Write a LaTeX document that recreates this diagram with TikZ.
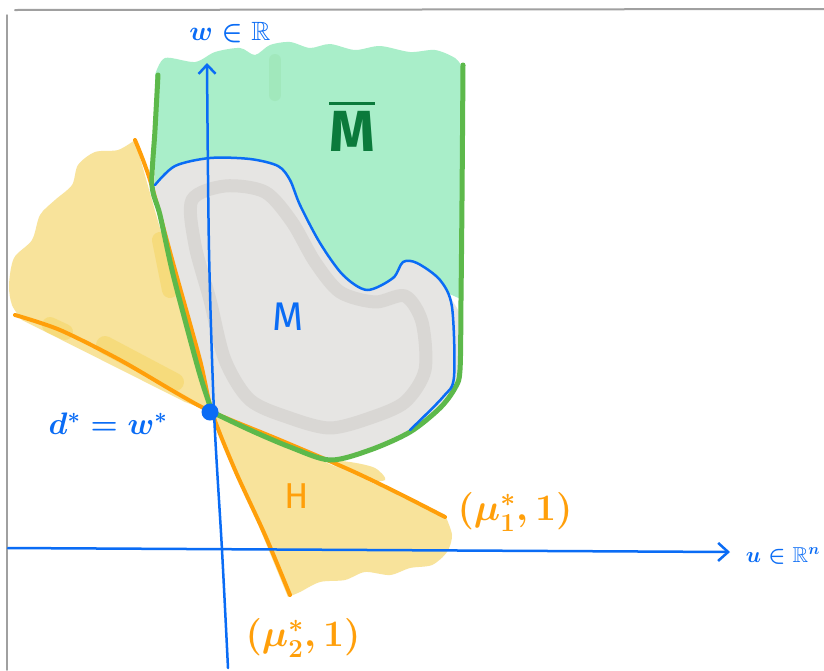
\documentclass[tikz,border=0pt]{standalone}
\usepackage{amssymb}
\usepackage{fontspec}
\setsansfont{Fira Sans}
\usetikzlibrary{arrows.meta}
\definecolor{gfill}{HTML}{A9EEC9}
\definecolor{gline}{HTML}{5DB94B}
\definecolor{gdark}{HTML}{0B7A3B}
\definecolor{grfill}{HTML}{E6E5E3}
\definecolor{grstroke}{HTML}{D9D7D4}
\definecolor{yfill}{HTML}{F8E39B}
\definecolor{ydark}{HTML}{F5D768}
\definecolor{orng}{HTML}{FF9F0A}
\definecolor{blu}{HTML}{0A6CF5}
\definecolor{bordergray}{HTML}{A0A0A0}
\begin{document}
\begin{tikzpicture}[x=1pt,y=-1pt,line cap=round,line join=round,
  axisline/.style={blu,line width=2.5pt},
  orline/.style={orng,line width=4pt},
  grline/.style={gline,line width=5pt},
  lbl/.style={inner sep=0pt,font=\sffamily}]
\useasboundingbox (0,0) rectangle (824,670);
\fill[white] (0,0) rectangle (824,670);
% border
\draw[bordergray,line width=2pt] (15,10) -- (824,9);
\draw[bordergray,line width=1.5pt] (7,15) -- (7,670);
% yellow upper wedge
\fill[yfill] (212,412) -- (135,140) -- plot[smooth] coordinates {(135,140)(118,150)(95,152)(78,165)(72,185)(55,200)(40,215)(32,240)(14,258)(9,285)(12,305)(22,320)} -- (185,402) -- cycle;
% yellow lower wedge
\fill[yfill] (212,412) -- (445,515) -- plot[smooth] coordinates {(445,515)(452,535)(447,552)(432,565)(410,568)(390,575)(365,572)(345,580)(320,582)(300,592)(288,597)} -- cycle;
\fill[yfill] plot[smooth cycle] coordinates {(330,462)(350,462)(375,468)(385,480)(360,480)};
% darker yellow streaks
\draw[ydark,line width=16pt,opacity=0.6] (50,325) -- (65,332);
\draw[ydark,line width=18pt,opacity=0.6] (105,345) -- (175,382);
\draw[ydark,line width=16pt,opacity=0.6] (160,240) -- (170,290);
% green fill
\fill[gfill] (155,185) -- (155,75) -- plot[smooth] coordinates {(155,75)(165,58)(195,62)(215,52)(240,48)(255,55)(270,45)(290,42)(310,48)(330,44)(355,50)(380,46)(410,52)(435,50)(455,58)(463,68)} -- (463,300) -- (445,292) -- (420,272) -- (403,270) -- (392,285) -- (367,297) -- (340,288) -- (300,215) -- (280,175) -- (210,165) -- cycle;
\draw[gfill!80!gline,line width=12pt,opacity=0.5] (275,60) -- (275,95);
% gray blob (bounded by blue outline and green boundary)
\fill[grfill] plot[smooth cycle] coordinates {(155,185)(175,166)(210,158)(250,159)(278,166)(290,180)(300,205)(320,243)(343,275)(367,290)(393,278)(403,262)(417,263)(440,280)(452,300)(461,320)(460,370)(455,388)(440,408)(410,432)(370,450)(330,460)(290,447)(240,425)(212,412)(200,370)(185,310)(170,250)(158,200)};
\draw[grstroke,line width=13pt] plot[smooth cycle] coordinates {(192,200)(225,186)(265,192)(292,222)(315,262)(340,292)(375,302)(405,296)(422,322)(425,370)(405,402)(370,418)(330,428)(290,418)(250,400)(225,360)(210,300)(195,245)};
% orange lines
\draw[orline] plot[smooth] coordinates {(15,315)(60,330)(120,360)(180,395)(212,412)(280,440)(350,470)(400,494)(445,517)};
\draw[orline] plot[smooth] coordinates {(135,140)(150,180)(175,270)(200,360)(212,412)(235,470)(265,535)(290,595)};
% green boundary lines
\draw[grline] plot[smooth] coordinates {(158,75)(155,130)(152,185)(160,215)(172,270)(185,320)(200,375)(212,412)};
\draw[grline] plot[smooth] coordinates {(212,412)(250,430)(290,447)(330,460)(370,450)(410,432)(440,408)(455,388)(460,370)(461,300)(462,200)(463,65)};
% blue outline of M
\draw[blu,line width=2.5pt] plot[smooth] coordinates {(155,185)(175,166)(210,158)(250,159)(278,166)(290,180)(300,205)(320,243)(343,275)(367,290)(393,278)(403,262)(417,263)(440,280)(452,307)(454,377)(443,397)(410,430)};
% axes
\coordinate (vbot) at (228,668);
\coordinate (vtop) at (207,63);
\coordinate (hleft) at (8,548);
\coordinate (hright) at (730,552);
\draw[axisline,-{Straight Barb[length=9pt,width=17pt,line width=2.5pt]}] plot[smooth] coordinates {(vbot)(222,550)(214,412)(209,250)(vtop)};
\draw[axisline,-{Straight Barb[length=10pt,width=18pt,line width=2.5pt]}] (hleft) -- (hright);
% point
\node[circle,fill=blu,minimum size=17pt,inner sep=0pt] (dot) at (210,412) {};
% labels
\node[lbl,blu,font=\fontsize{24}{24}\selectfont\boldmath] (wlab) at (230,33) {\scalebox{1.1}{$w\in\mathbb{R}$}};
\node[lbl,blu,font=\fontsize{24}{24}\selectfont\boldmath,anchor=east] (ulab) at (820,556) {\scalebox{0.9}{$u\in\mathbb{R}^n$}};
\node[lbl,blu,font=\fontsize{24}{24}\selectfont\boldmath] (dlab) at (108,424) {\scalebox{1.25}{$d^*=w^*$}};
\node[lbl,orng,font=\fontsize{24}{24}\selectfont\boldmath] (mu1) at (515,512) {\scalebox{1.5}{$(\mu^*_1,1)$}};
\node[lbl,orng,font=\fontsize{24}{24}\selectfont\boldmath] (mu2) at (303,638) {\scalebox{1.5}{$(\mu^*_2,1)$}};
\node[lbl,gdark,font=\fontsize{58}{58}\selectfont] (mbar) at (352,126) {$\overline{\mbox{\sffamily\bfseries M}}$};
\node[lbl,blu,font=\fontsize{40}{40}\selectfont\sffamily] (mlab) at (288,317) {M};
\node[lbl,orng,font=\fontsize{36}{36}\selectfont\sffamily] (hlab) at (297,496) {H};
\end{tikzpicture}
\end{document}
